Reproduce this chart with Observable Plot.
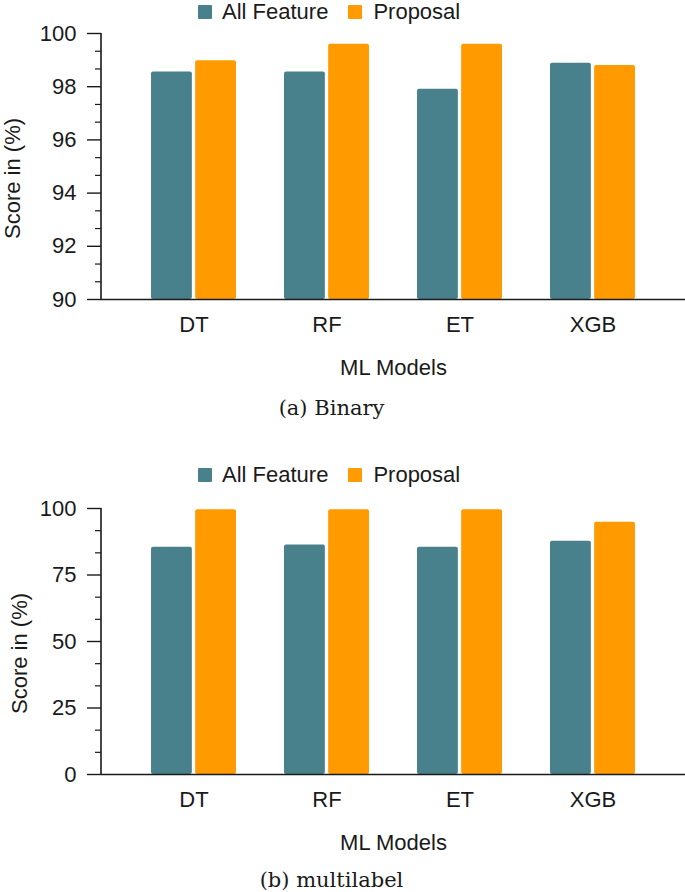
<!DOCTYPE html>
<html><head><meta charset="utf-8">
<script src="https://cdn.jsdelivr.net/npm/d3@7"></script>
<script src="https://cdn.jsdelivr.net/npm/@observablehq/plot@0.6"></script>
<style>
body{margin:0;background:#fff;width:685px;height:892px;position:relative;overflow:hidden;font-family:"Liberation Sans",Arial,sans-serif;}
.panel-svg{position:absolute;left:0;}
.legend{position:absolute;display:flex;align-items:center;height:24px;font-size:22px;color:#1a1a1a;white-space:nowrap;font-family:"Liberation Sans",Arial,sans-serif;}
.sw{display:inline-block;width:14px;height:14px;border-radius:1px;}
.caption{position:absolute;left:0;width:663px;height:26px;line-height:26px;text-align:center;font-family:"DejaVu Serif",serif;font-size:21px;color:#1a1a1a;}
</style></head><body>
<script>
// ---- data ----
const models = ["DT", "RF", "ET", "XGB"];
const seriesNames = ["All Feature", "Proposal"];
const seriesColors = ["#48808c", "#ff9a00"];
const binaryAllFeature = [98.55, 98.55, 97.9, 98.88];
const binaryProposal = [98.98, 99.6, 99.6, 98.8];
const multiAllFeature = [85.4, 86.3, 85.4, 87.7];
const multiProposal = [99.5, 99.5, 99.5, 94.8];
const binaryDomain = [90, 100];
const binaryTicks = [90, 92, 94, 96, 98, 100];
const binaryMinorTicks = [90.667, 91.333, 92.667, 93.333, 94.667, 95.333, 96.667, 97.333, 98.667, 99.333];
const multiDomain = [0, 100];
const multiTicks = [0, 25, 50, 75, 100];
const multiMinorTicks = [8.333, 16.667, 33.333, 41.667, 58.333, 66.667, 83.333, 91.667];
const xLabel = "ML Models";
const yLabel = "Score in (%)";
const captions = ["(a) Binary", "(b) multilabel"];

const ink = "#1a1a1a";
const W = 685, ML = 101, MR = 0;
const padInner = 0.3588, padOuter = 0.3667;
const bw = d3.scaleBand().domain(models).range([ML, W - MR]).paddingInner(padInner).paddingOuter(padOuter).bandwidth();
const half = bw / 2 + 1.35;

function panel(cfg) {
  const rows = (vals, s) => models.map((m, i) => ({model: m, series: s, value: vals[i]}));
  const a = rows(cfg.all, seriesNames[0]);
  const p = rows(cfg.prop, seriesNames[1]);
  const base = cfg.domain[0];
  const chart = Plot.plot({
    width: W, height: cfg.height,
    marginLeft: ML, marginRight: MR, marginTop: cfg.mt, marginBottom: cfg.mb,
    style: {fontFamily: "Liberation Sans, Arial, sans-serif", fontSize: "22px", color: ink, background: "transparent", overflow: "visible"},
    x: {domain: models, paddingInner: padInner, paddingOuter: padOuter},
    y: {domain: cfg.domain},
    marks: [
      Plot.barY(a, {x: "model", y1: () => base, y2: "value", fill: seriesColors[0], insetRight: half, rx: 2}),
      Plot.barY(p, {x: "model", y1: () => base, y2: "value", fill: seriesColors[1], insetLeft: half, rx: 2}),
      Plot.ruleY([base], {stroke: ink, strokeWidth: 1.6}),
      (index, scales, values, dims) => {
        const l = document.createElementNS("http://www.w3.org/2000/svg", "line");
        l.setAttribute("x1", dims.marginLeft); l.setAttribute("x2", dims.marginLeft);
        l.setAttribute("y1", dims.marginTop); l.setAttribute("y2", dims.height - dims.marginBottom);
        l.setAttribute("stroke", ink); l.setAttribute("stroke-width", 1.6);
        return l;
      },
      Plot.axisY({ticks: cfg.ticks, tickSize: 14, tickPadding: 11, fontSize: 22, label: null, stroke: ink, strokeWidth: 1.4, tickFormat: d => String(d)}),
      Plot.axisY({ticks: cfg.minor, tickSize: 6, tickFormat: () => "", label: null, stroke: ink, strokeWidth: 1.2}),
      Plot.axisX({tickSize: 0, tickPadding: 17, fontSize: 22, label: null}),
      Plot.text([xLabel], {frameAnchor: "bottom", text: d => d, dy: cfg.xLabelDy, fontSize: 22, fill: ink, textAnchor: "middle", lineAnchor: "middle"}),
      Plot.text([yLabel], {frameAnchor: "left", text: d => d, rotate: -90, dx: cfg.yLabelX - ML, dy: 12, fontSize: 22, fill: ink, textAnchor: "middle", lineAnchor: "middle"})
    ]
  });
  chart.classList.add("panel-svg");
  chart.style.top = cfg.top + "px";
  document.body.appendChild(chart);

  const lg = document.createElement("div");
  lg.className = "legend";
  lg.style.left = "198px";
  lg.style.top = (cfg.legendY - 12) + "px";
  lg.innerHTML = `<span class="sw" style="background:${seriesColors[0]};margin-right:10px"></span><span>${seriesNames[0]}</span>` +
    `<span class="sw" style="background:${seriesColors[1]};margin-left:20px;margin-right:11px"></span><span>${seriesNames[1]}</span>`;
  document.body.appendChild(lg);

  const cap = document.createElement("div");
  cap.className = "caption";
  cap.style.top = (cfg.captionY - 13) + "px";
  cap.textContent = cfg.caption;
  document.body.appendChild(cap);
}

panel({all: binaryAllFeature, prop: binaryProposal, domain: binaryDomain, ticks: binaryTicks, minor: binaryMinorTicks,
  top: 0, height: 385, mt: 33, mb: 86, legendY: 12, captionY: 408, xLabelDy: 68, yLabelX: 12, caption: captions[0]});
panel({all: multiAllFeature, prop: multiProposal, domain: multiDomain, ticks: multiTicks, minor: multiMinorTicks,
  top: 440, height: 418, mt: 68, mb: 84, legendY: 475, captionY: 880, xLabelDy: 68, yLabelX: 19, caption: captions[1]});
</script>
</body></html>
